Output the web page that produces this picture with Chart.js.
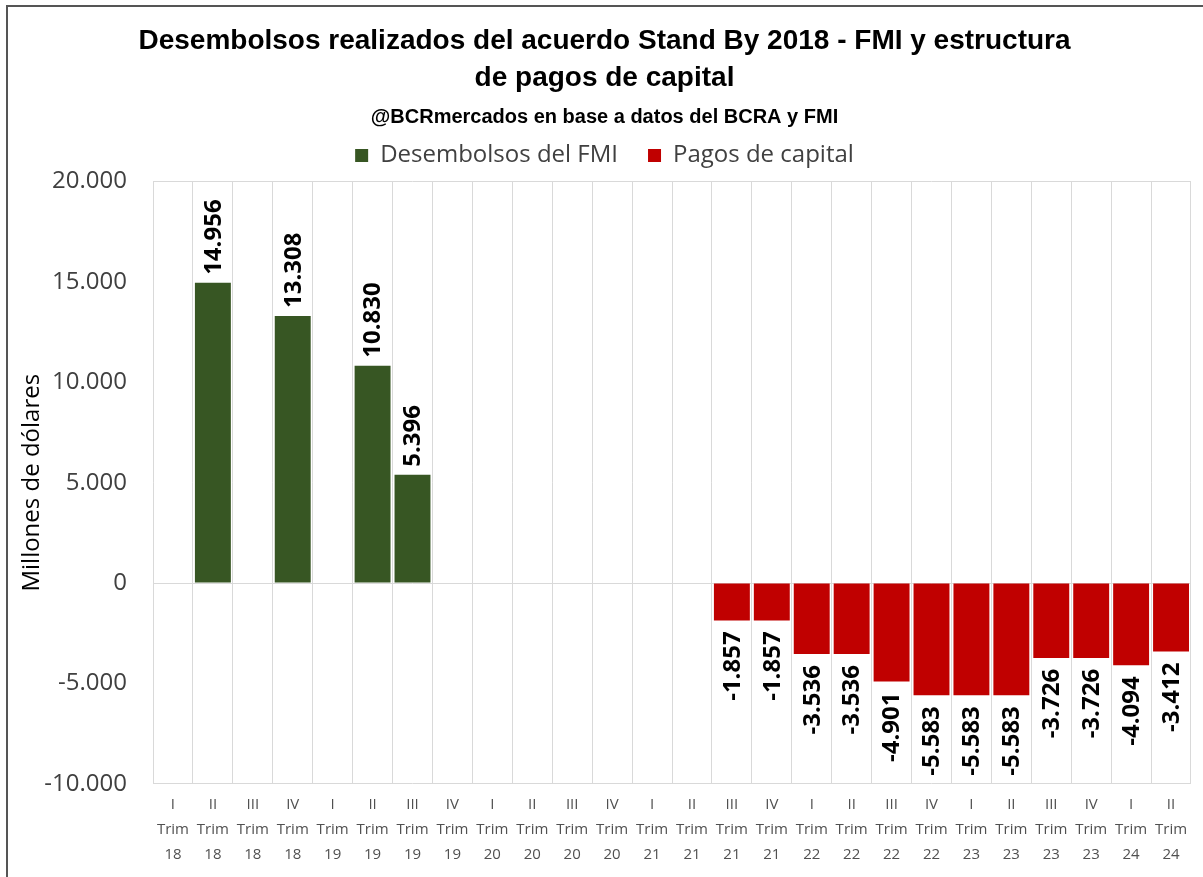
<!DOCTYPE html>
<html lang="es">
<head>
    <meta charset="UTF-8">
    <title>Desembolsos FMI y pagos de capital</title>
    <script src="https://cdn.jsdelivr.net/npm/chart.js"></script>
    <style>
        html, body { margin: 0; padding: 0; background: #ffffff; }
        .wrap { position: relative; width: 1203px; height: 877px; }
        .frame { position: absolute; left: 6px; top: 5px; right: -10px; bottom: -10px; border-top: 2px solid #555; border-left: 2px solid #555; pointer-events: none; }
    </style>
</head>
<body>
    <div class="wrap">
        <canvas id="fmiChart" width="1203" height="877"></canvas>
        <div class="frame"></div>
    </div>

    <script>
        const trimestres = ['I', 'II', 'III', 'IV', 'I', 'II', 'III', 'IV', 'I', 'II', 'III', 'IV', 'I',
                            'II', 'III', 'IV', 'I', 'II', 'III', 'IV', 'I', 'II', 'III', 'IV', 'I', 'II'];
        const anios = ['18', '18', '18', '18', '19', '19', '19', '19', '20', '20', '20', '20', '21',
                       '21', '21', '21', '22', '22', '22', '22', '23', '23', '23', '23', '24', '24'];
        const desembolsos = [null, 14956, null, 13308, null, 10830, 5396, null, null, null, null, null, null,
                             null, null, null, null, null, null, null, null, null, null, null, null, null];
        const pagos = [null, null, null, null, null, null, null, null, null, null, null, null, null,
                       null, -1857, -1857, -3536, -3536, -4901, -5583, -5583, -5583, -3726, -3726, -4094, -3412];
        const yTicks = [-10000, -5000, 0, 5000, 10000, 15000, 20000];

        const labels = trimestres.map((t, i) => [t, 'Trim', anios[i]]);

        function fmt(v) {
            const s = Math.abs(v).toString().replace(/\B(?=(\d{3})+(?!\d))/g, '.');
            return (v < 0 ? '-' : '') + s;
        }

        // etiquetas rotadas sobre / bajo cada barra
        const barLabels = {
            id: 'barLabels',
            afterDatasetsDraw(chart) {
                const ctx = chart.ctx;
                ctx.save();
                ctx.font = 'bold 24px "Open Sans"';
                ctx.fillStyle = '#000000';
                ctx.textBaseline = 'middle';
                chart.data.datasets.forEach((ds, di) => {
                    const meta = chart.getDatasetMeta(di);
                    meta.data.forEach((bar, i) => {
                        const v = ds.data[i];
                        if (v === null || v === undefined) return;
                        ctx.save();
                        if (v >= 0) {
                            ctx.translate(bar.x, bar.y - 8);
                            ctx.rotate(-Math.PI / 2);
                            ctx.textAlign = 'left';
                        } else {
                            ctx.translate(bar.x, bar.y + 11);
                            ctx.rotate(-Math.PI / 2);
                            ctx.textAlign = 'right';
                        }
                        ctx.fillText(fmt(v), 0, 1);
                        ctx.restore();
                    });
                });
                ctx.restore();
            }
        };

        // espacio extra bajo la leyenda
        const legendGap = {
            id: 'legendGap',
            beforeInit(chart) {
                const fit = chart.legend.fit;
                chart.legend.fit = function () {
                    fit.call(this);
                    this.height += 4;
                };
            }
        };

        const ctx = document.getElementById('fmiChart').getContext('2d');
        new Chart(ctx, {
            type: 'bar',
            data: {
                labels: labels,
                datasets: [{
                    label: 'Desembolsos del FMI',
                    data: desembolsos,
                    backgroundColor: '#375623',
                    borderWidth: 0,
                    categoryPercentage: 0.9,
                    barPercentage: 1.0
                }, {
                    label: 'Pagos de capital',
                    data: pagos,
                    backgroundColor: '#c00000',
                    borderWidth: 0,
                    categoryPercentage: 0.9,
                    barPercentage: 1.0
                }]
            },
            options: {
                responsive: false,
                animation: false,
                layout: {
                    padding: { left: 18, right: 12, top: 0, bottom: 2 }
                },
                plugins: {
                    title: {
                        display: true,
                        text: ['Desembolsos realizados del acuerdo Stand By 2018 - FMI y estructura', 'de pagos de capital'],
                        font: { family: '"Liberation Sans Narrow", "Liberation Sans"', size: 28, weight: 'bold', lineHeight: 1.35 },
                        color: '#000000',
                        padding: { top: 22, bottom: 0 }
                    },
                    subtitle: {
                        display: true,
                        text: '@BCRmercados en base a datos del BCRA y FMI',
                        font: { family: '"Liberation Sans Narrow", "Liberation Sans"', size: 20, weight: 'bold', lineHeight: 1.2 },
                        color: '#000000',
                        padding: { top: 8, bottom: -16 }
                    },
                    legend: {
                        display: true,
                        labels: {
                            font: { family: '"Open Sans"', size: 24 },
                            color: '#404040',
                            boxWidth: 13,
                            boxHeight: 13,
                            padding: 30
                        }
                    },
                    tooltip: { enabled: false }
                },
                scales: {
                    x: {
                        stacked: true,
                        grid: {
                            color: '#d9d9d9',
                            lineWidth: 1,
                            offset: true,
                            drawTicks: false
                        },
                        border: { display: false },
                        ticks: {
                            color: '#505050',
                            font: { family: '"Open Sans"', size: 15, lineHeight: 1.67 },
                            maxRotation: 0,
                            autoSkip: false,
                            padding: 8
                        }
                    },
                    y: {
                        stacked: true,
                        min: -10000,
                        max: 20000,
                        afterBuildTicks(axis) {
                            axis.ticks = yTicks.map(v => ({ value: v }));
                        },
                        afterFit(axis) {
                            axis.width = 135;
                        },
                        grid: {
                            color: c => (c.tick && [20000, 0, -10000].includes(c.tick.value)) ? '#d9d9d9' : 'rgba(0,0,0,0)',
                            drawTicks: false
                        },
                        border: { display: false },
                        ticks: {
                            color: '#404040',
                            font: { family: '"Open Sans"', size: 24 },
                            padding: 26,
                            callback: v => fmt(v)
                        },
                        title: {
                            display: true,
                            text: 'Millones de dólares',
                            color: '#000000',
                            font: { family: '"Open Sans"', size: 24, lineHeight: 1.2 },
                            padding: { top: 0, bottom: 0 }
                        }
                    }
                }
            },
            plugins: [barLabels, legendGap]
        });
    </script>
</body>
</html>
